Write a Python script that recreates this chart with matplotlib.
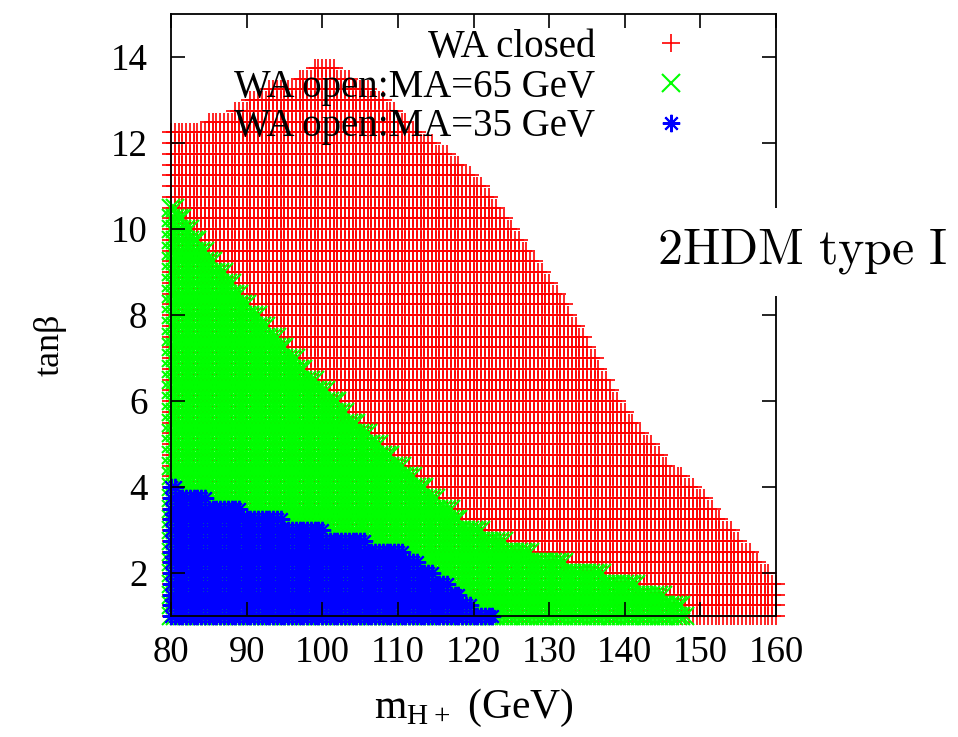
import numpy as np
import matplotlib
matplotlib.use("Agg")
import matplotlib.pyplot as plt

plt.rcParams["font.family"] = ["Liberation Serif", "DejaVu Serif"]

# Scan grid of the (m_H+, tan beta) plane
m_first, m_step = 80.0, 0.5
tb_first, tb_step = 1.0, 0.25

# Upper edge of each region: from m_H+ = *_m[i] onward, points reach tan beta = *_tb[i]
red_m = [80.0, 85.0, 88.5, 90.5, 93.0, 97.0, 99.0, 102.0, 104.0, 106.5, 108.5,
         110.0, 111.5, 113.0, 115.0, 117.0, 118.5, 120.0, 121.5, 122.5, 123.5,
         124.5, 125.5, 126.5, 127.5, 128.5, 129.5, 130.5, 131.5, 132.5, 133.0,
         134.0, 135.0, 135.5, 136.5, 137.0, 138.0, 138.5, 139.5, 140.5, 141.5,
         142.5, 144.0, 145.0, 146.0, 148.0, 149.5, 151.0, 152.0, 153.0, 154.5,
         155.5, 157.0, 158.0, 159.5]
red_tb = [12.25, 12.5, 12.75, 13.0, 13.25, 13.5, 13.75, 13.5, 13.25, 13.0, 12.75,
          12.5, 12.25, 12.0, 11.75, 11.5, 11.25, 11.0, 10.75, 10.5, 10.25,
          10.0, 9.75, 9.5, 9.25, 9.0, 8.75, 8.5, 8.25, 8.0, 7.75,
          7.5, 7.25, 7.0, 6.75, 6.5, 6.25, 6.0, 5.75, 5.5, 5.25,
          5.0, 4.75, 4.5, 4.25, 4.0, 3.75, 3.5, 3.25, 3.0, 2.75,
          2.5, 2.25, 2.0, 1.75]
red_m_last = 160.0

green_m = [80.0, 81.0, 82.0, 83.0, 84.0, 85.0, 86.0, 87.5, 88.5, 89.5, 90.5,
           92.0, 93.0, 94.5, 95.5, 97.0, 98.0, 99.5, 101.0, 102.5, 103.5,
           105.0, 106.5, 108.0, 109.5, 111.0, 112.5, 114.0, 115.5, 117.5, 118.5,
           121.5, 124.5, 128.0, 132.5, 137.5, 142.0, 145.5, 148.0]
green_tb = [10.5, 10.25, 10.0, 9.75, 9.5, 9.25, 9.0, 8.75, 8.5, 8.25, 8.0,
            7.75, 7.5, 7.25, 7.0, 6.75, 6.5, 6.25, 6.0, 5.75, 5.5,
            5.25, 5.0, 4.75, 4.5, 4.25, 4.0, 3.75, 3.5, 3.25, 3.0,
            2.75, 2.5, 2.25, 2.0, 1.75, 1.5, 1.25, 1.0]
green_m_last = 148.0

blue_m = [80.0, 81.0, 85.0, 89.5, 95.0, 100.5, 106.0, 111.0, 113.0, 115.0,
          117.0, 118.5, 120.0]
blue_tb = [4.0, 3.75, 3.5, 3.25, 3.0, 2.75, 2.5, 2.25, 2.0, 1.75,
           1.5, 1.25, 1.0]
blue_m_last = 122.5

series_labels = ["WA closed", "WA open:MA=65 GeV", "WA open:MA=35 GeV"]
series_colors = ["#ff0000", "#00ff00", "#0000ff"]
series_markers = ["+", "x", (8, 2, 0)]
series_widths = [1.2, 1.5, 1.5]

x_ticks = [80, 90, 100, 110, 120, 130, 140, 150, 160]
y_ticks = [2, 4, 6, 8, 10, 12, 14]


def region_points(edges, tb_max, m_last):
    """All scan points lying under the staircase upper edge."""
    n_cols = int(round((m_last - m_first) / m_step)) + 1
    xs, ys = [], []
    for c in range(n_cols):
        m = m_first + c * m_step
        k = np.searchsorted(edges, m + 1e-9, side="right") - 1
        n_rows = int(round((tb_max[k] - tb_first) / tb_step)) + 1
        xs.append(np.full(n_rows, m))
        ys.append(tb_first + tb_step * np.arange(n_rows))
    return np.concatenate(xs), np.concatenate(ys)


regions = [
    region_points(red_m, red_tb, red_m_last),
    region_points(green_m, green_tb, green_m_last),
    region_points(blue_m, blue_tb, blue_m_last),
]

fig = plt.figure(figsize=(9.58, 7.37), dpi=100)
ax = fig.add_axes([171 / 958, 1 - 616 / 737, 605 / 958, 602 / 737])

for (xs, ys), lab, col, mk, mw in zip(regions, series_labels, series_colors,
                                      series_markers, series_widths):
    ax.plot(xs, ys, linestyle="none", marker=mk, markersize=12.5,
            markeredgewidth=mw, color=col, clip_on=False, label=lab, zorder=1)

ax.set_xlim(80, 160)
ax.set_ylim(1, 15)
ax.set_xticks(x_ticks)
ax.set_yticks(y_ticks)
ax.tick_params(direction="in", top=True, right=True, length=10, width=1.2,
               labelsize=26.5, colors="black")
ax.tick_params(axis="x", pad=14)
ax.tick_params(axis="y", pad=17)
for sp in ax.spines.values():
    sp.set_linewidth(1.3)
    sp.set_zorder(3)

ax.set_xlabel(r"m$_{\mathregular{H+}}$ (GeV)", fontsize=30, labelpad=12)
ax.set_ylabel("tanβ", fontsize=26)
ax.yaxis.set_label_coords(-0.172, 0.45)

leg = ax.legend(loc="upper right", bbox_to_anchor=(0.907, 0.975),
                markerfirst=False, frameon=False, borderpad=0, borderaxespad=0,
                handlelength=2.5, handletextpad=0.7, labelspacing=0.07,
                numpoints=1, fontsize=28)
leg.set_zorder(5)

fig.text(802 / 958, 1 - 252 / 737, r"$\mathrm{2HDM\ type\ I}$", math_fontfamily="cm",
         fontsize=36, ha="center", va="center",
         bbox=dict(facecolor="white", edgecolor="none", pad=14))

fig.savefig("out.png", dpi=100)
